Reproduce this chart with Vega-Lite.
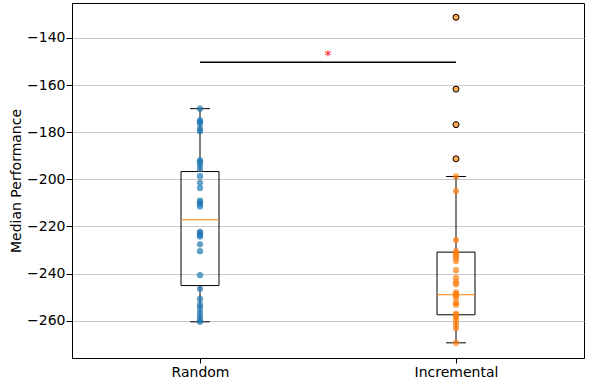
{
  "$schema": "https://vega.github.io/schema/vega-lite/v6.json",
  "width": 512,
  "height": 355,
  "autosize": "none",
  "padding": {"left": 72, "top": 3, "right": 14, "bottom": 33},
  "config": {
    "font": "DejaVu Sans",
    "view": {"stroke": "#000000", "strokeWidth": 1},
    "axis": {
      "labelFont": "DejaVu Sans", "labelFontSize": 14, "labelColor": "#000000",
      "titleFont": "DejaVu Sans", "titleFontSize": 14, "titleFontWeight": "normal", "titleColor": "#000000",
      "tickColor": "#000000", "tickSize": 5, "domainColor": "#000000", "labelPadding": 2
    }
  },
  "datasets": {
    "points": [
      {"group": "Random", "value": -170},
      {"group": "Random", "value": -175},
      {"group": "Random", "value": -175.6},
      {"group": "Random", "value": -176.3},
      {"group": "Random", "value": -178.5},
      {"group": "Random", "value": -179.6},
      {"group": "Random", "value": -192},
      {"group": "Random", "value": -192.7},
      {"group": "Random", "value": -193.8},
      {"group": "Random", "value": -195.6},
      {"group": "Random", "value": -198.7},
      {"group": "Random", "value": -201.5},
      {"group": "Random", "value": -203.7},
      {"group": "Random", "value": -209.1},
      {"group": "Random", "value": -209.8},
      {"group": "Random", "value": -210.5},
      {"group": "Random", "value": -211.5},
      {"group": "Random", "value": -222.3},
      {"group": "Random", "value": -222.9},
      {"group": "Random", "value": -223.6},
      {"group": "Random", "value": -224.3},
      {"group": "Random", "value": -227.6},
      {"group": "Random", "value": -230.5},
      {"group": "Random", "value": -240.7},
      {"group": "Random", "value": -246.5},
      {"group": "Random", "value": -250.8},
      {"group": "Random", "value": -253.2},
      {"group": "Random", "value": -254.6},
      {"group": "Random", "value": -256.5},
      {"group": "Random", "value": -258.2},
      {"group": "Random", "value": -259.7},
      {"group": "Random", "value": -260.5},
      {"group": "Incremental", "value": -131.2},
      {"group": "Incremental", "value": -161.7},
      {"group": "Incremental", "value": -176.8},
      {"group": "Incremental", "value": -191.3},
      {"group": "Incremental", "value": -198.8},
      {"group": "Incremental", "value": -205},
      {"group": "Incremental", "value": -225.8},
      {"group": "Incremental", "value": -230.5},
      {"group": "Incremental", "value": -231.5},
      {"group": "Incremental", "value": -232.3},
      {"group": "Incremental", "value": -233.3},
      {"group": "Incremental", "value": -234.7},
      {"group": "Incremental", "value": -238.6},
      {"group": "Incremental", "value": -241.8},
      {"group": "Incremental", "value": -243.7},
      {"group": "Incremental", "value": -244.5},
      {"group": "Incremental", "value": -248},
      {"group": "Incremental", "value": -248.8},
      {"group": "Incremental", "value": -249.2},
      {"group": "Incremental", "value": -250.4},
      {"group": "Incremental", "value": -252.5},
      {"group": "Incremental", "value": -253.2},
      {"group": "Incremental", "value": -257.1},
      {"group": "Incremental", "value": -257.5},
      {"group": "Incremental", "value": -258.2},
      {"group": "Incremental", "value": -259.7},
      {"group": "Incremental", "value": -261.4},
      {"group": "Incremental", "value": -263.2},
      {"group": "Incremental", "value": -269.4}
    ],
    "stats": [
      {"group": "Random", "lower": -260.5, "q1": -245.1, "median": -217.2, "q3": -196.7, "upper": -170},
      {"group": "Incremental", "lower": -269.4, "q1": -257.5, "median": -249, "q3": -230.9, "upper": -198.8}
    ],
    "sig": [
      {"from": "Random", "to": "Incremental", "value": -150.3, "label": "*", "labelValue": -149.3}
    ]
  },
  "encoding": {
    "x": {
      "field": "group", "type": "nominal",
      "sort": ["Random", "Incremental"],
      "scale": {"type": "point", "padding": 0.5, "domain": ["Random", "Incremental"]},
      "axis": {"title": null, "labelAngle": 0, "grid": false}
    }
  },
  "layer": [
    {
      "data": {"name": "stats"},
      "mark": {"type": "rule", "color": "#000000", "strokeWidth": 1},
      "encoding": {
        "y": {
          "field": "lower", "type": "quantitative",
          "scale": {"domain": [-275.85, -125.15], "nice": false, "zero": false},
          "axis": {
            "title": "Median Performance",
            "values": [-260, -240, -220, -200, -180, -160, -140],
            "grid": true, "gridColor": "#c8c8c8", "gridWidth": 1,
            "labelPadding": 1, "tickSize": 6,
            "titlePadding": 3
          }
        },
        "y2": {"field": "q1"}
      }
    },
    {
      "data": {"name": "stats"},
      "mark": {"type": "rule", "color": "#000000", "strokeWidth": 1},
      "encoding": {
        "y": {"field": "q3", "type": "quantitative"},
        "y2": {"field": "upper"}
      }
    },
    {
      "data": {"name": "stats"},
      "mark": {"type": "bar", "size": 38, "fill": null, "fillOpacity": 0, "stroke": "#000000", "strokeWidth": 1},
      "encoding": {
        "y": {"field": "q1", "type": "quantitative"},
        "y2": {"field": "q3"}
      }
    },
    {
      "data": {"name": "stats"},
      "mark": {"type": "tick", "size": 20, "thickness": 1, "color": "#000000", "opacity": 1},
      "encoding": {"y": {"field": "lower", "type": "quantitative"}}
    },
    {
      "data": {"name": "stats"},
      "mark": {"type": "tick", "size": 20, "thickness": 1, "color": "#000000", "opacity": 1},
      "encoding": {"y": {"field": "upper", "type": "quantitative"}}
    },
    {
      "data": {"name": "points"},
      "mark": {"type": "circle", "size": 40, "opacity": 0.7},
      "encoding": {
        "y": {"field": "value", "type": "quantitative"},
        "color": {
          "field": "group", "type": "nominal",
          "scale": {"domain": ["Random", "Incremental"], "range": ["#1f77b4", "#ff7f0e"]},
          "legend": null
        }
      }
    },
    {
      "data": {"name": "stats"},
      "mark": {"type": "tick", "size": 38, "thickness": 1, "color": "#ff7f0e", "opacity": 1},
      "encoding": {"y": {"field": "median", "type": "quantitative"}}
    },
    {
      "data": {"name": "points"},
      "transform": [{"filter": "datum.group == 'Incremental' && datum.value > -195"}],
      "mark": {"type": "point", "shape": "circle", "size": 36, "filled": false, "stroke": "#000000", "strokeWidth": 1, "opacity": 1},
      "encoding": {"y": {"field": "value", "type": "quantitative"}}
    },
    {
      "data": {"name": "sig"},
      "mark": {"type": "rule", "color": "#000000", "strokeWidth": 1.5},
      "encoding": {
        "x": {"field": "from", "type": "nominal"},
        "x2": {"field": "to"},
        "y": {"field": "value", "type": "quantitative"}
      }
    },
    {
      "data": {"name": "sig"},
      "mark": {"type": "text", "color": "#ff0000", "fontSize": 14, "font": "DejaVu Sans", "baseline": "alphabetic", "align": "center"},
      "encoding": {
        "x": null,
        "y": {"field": "labelValue", "type": "quantitative"},
        "text": {"field": "label"}
      }
    }
  ]
}
